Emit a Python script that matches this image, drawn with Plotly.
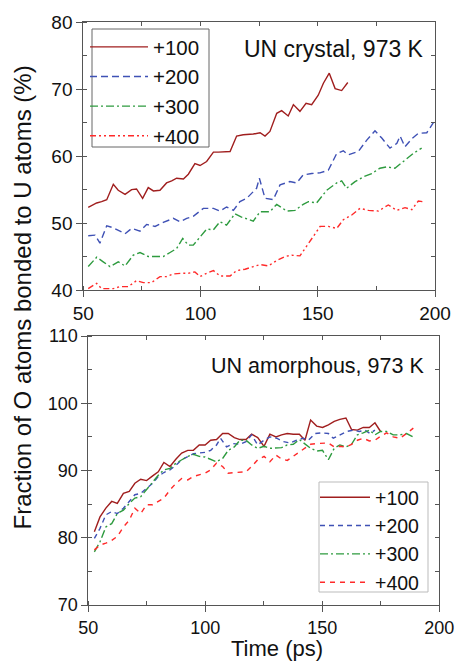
import plotly.graph_objects as go

# ---------------- data: UN crystal (top panel) ----------------
t_c100 = [52.1, 55.7, 57.8, 60.0, 62.8, 64.9, 67.8, 70.6, 72.7, 75.3, 77.7, 79.9, 82.7, 85.5, 87.7,
          89.8, 92.7, 94.8, 97.6, 99.8, 102.6, 105.5, 107.6, 112.6, 115.4, 118.2, 122.5, 125.4, 127.5,
          129.6, 132.5, 134.6, 137.4, 139.6, 142.4, 145.0, 147.4, 150.2, 152.4, 154.9, 157.4, 160.2, 162.8]
v_c100 = [52.35, 53.0, 53.2, 53.5, 55.8, 54.9, 54.3, 55.0, 55.1, 53.7, 55.3, 54.8, 54.9, 56.0, 56.3,
          56.7, 56.6, 57.3, 58.9, 58.6, 59.2, 60.6, 60.6, 60.7, 63.0, 63.2, 63.3, 63.5, 63.0,
          63.7, 66.4, 66.8, 66.0, 67.7, 66.7, 67.9, 67.7, 69.1, 70.9, 72.4, 70.1, 69.8, 71.0]

t_c200 = [52.1, 55.0, 57.1, 60.0, 62.8, 67.8, 70.6, 74.2, 77.0, 80.6, 84.1, 88.4, 91.2, 94.1, 96.9,
          101.2, 105.5, 108.3, 111.1, 114.0, 116.8, 119.7, 123.9, 125.1, 127.5, 131.0, 133.9, 138.1,
          141.0, 143.8, 147.4, 150.9, 154.5, 158.1, 160.9, 163.0, 167.3, 170.9, 174.4, 177.3, 180.8,
          183.7, 185.1, 187.2, 190.1, 192.9, 196.5, 199.3]
v_c200 = [48.1, 48.2, 47.0, 49.6, 49.3, 48.4, 49.2, 48.8, 49.8, 49.5, 50.1, 50.7, 50.2, 50.7, 51.0,
          52.2, 52.2, 51.8, 52.4, 51.9, 53.2, 53.7, 55.2, 56.7, 53.7, 53.5, 55.7, 56.2,
          56.0, 57.2, 57.4, 57.5, 57.9, 60.4, 60.8, 60.2, 60.7, 62.4, 63.8, 62.7, 61.2,
          61.9, 63.0, 61.4, 62.6, 63.4, 63.5, 65.0]

t_c300 = [52.1, 55.7, 58.5, 61.4, 64.9, 67.8, 71.3, 74.2, 77.7, 81.3, 84.1, 87.0, 89.8, 92.4, 94.8,
          96.9, 99.8, 102.6, 105.5, 108.3, 111.1, 114.7, 117.5, 122.5, 125.4, 129.6, 132.5, 136.8,
          140.3, 143.8, 146.0, 149.5, 153.8, 158.1, 160.2, 162.3, 165.9, 169.4, 173.0, 176.5, 179.4,
          182.9, 186.5, 190.7, 194.3]
v_c300 = [43.5, 44.9, 44.2, 43.5, 44.2, 43.6, 45.2, 45.6, 45.0, 45.0, 45.0, 45.6, 46.2, 47.7, 46.7,
          46.7, 47.9, 49.1, 49.0, 50.2, 49.7, 51.4, 50.9, 50.3, 51.7, 51.7, 52.8, 51.8,
          51.9, 52.8, 53.2, 53.0, 54.9, 56.0, 56.3, 55.2, 56.2, 56.9, 57.4, 58.2, 58.4,
          58.2, 59.2, 60.4, 61.2]

t_c400 = [52.1, 55.7, 57.8, 62.8, 65.6, 69.2, 72.7, 75.6, 79.1, 82.7, 85.5, 88.4, 91.9, 94.8, 97.6,
          99.8, 102.6, 105.5, 108.3, 112.6, 115.4, 119.0, 122.5, 125.4, 128.9, 132.5, 136.0, 138.9,
          142.4, 145.3, 148.1, 151.0, 154.5, 158.1, 160.9, 164.5, 168.0, 171.6, 175.8, 180.1, 183.7,
          187.2, 190.1, 192.9, 194.8]
v_c400 = [40.2, 41.0, 40.2, 40.2, 40.5, 40.5, 41.4, 41.1, 41.1, 42.0, 42.0, 42.4, 42.5, 42.5, 42.7,
          42.0, 42.5, 42.9, 42.1, 42.1, 42.9, 43.1, 43.5, 43.8, 43.6, 44.4, 45.0, 45.2,
          45.1, 46.5, 48.0, 49.5, 49.5, 49.2, 50.5, 51.2, 52.2, 51.9, 51.8, 52.7, 51.9,
          52.3, 52.0, 53.3, 53.2]

# ---------------- data: UN amorphous (bottom panel) ----------------
t_a100 = [52.6, 55.0, 57.5, 60.0, 62.4, 65.0, 67.5, 69.9, 72.4, 74.9, 77.5, 79.9, 82.3, 84.9, 87.5,
          89.9, 92.5, 94.9, 97.4, 99.9, 102.3, 104.8, 107.4, 109.8, 112.4, 114.8, 117.4, 119.8,
          122.4, 125.1, 127.6, 130.2, 132.6, 135.0, 137.6, 140.2, 142.6, 145.0, 147.6, 150.1,
          152.6, 155.1, 157.5, 160.1, 162.5, 165.0, 167.5, 170.1, 172.5, 174.9]
v_a100 = [80.9, 83.1, 84.4, 85.4, 85.1, 86.6, 86.9, 88.1, 88.7, 88.5, 89.2, 89.8, 91.2, 90.6, 91.7,
          92.6, 93.0, 93.0, 93.8, 93.8, 94.5, 94.6, 95.5, 95.5, 94.9, 94.6, 94.6, 95.4,
          94.9, 93.6, 95.4, 95.0, 95.3, 95.5, 95.4, 95.4, 94.5, 97.5, 96.6, 96.4,
          96.8, 97.3, 97.6, 97.8, 96.1, 96.0, 96.4, 96.4, 97.1, 95.8]

t_a200 = [52.6, 55.0, 57.5, 60.0, 62.4, 65.0, 67.5, 69.9, 72.4, 74.9, 77.5, 79.9, 82.3, 84.9, 87.5,
          89.9, 92.5, 94.9, 97.4, 99.9, 102.3, 104.8, 106.5, 109.1, 111.9, 114.8, 117.4, 119.8,
          122.4, 125.1, 127.6, 130.5, 133.3, 136.2, 139.0, 141.9, 144.0, 146.9, 149.7, 152.6,
          154.7, 157.5, 160.4, 163.2, 165.8, 168.2, 170.4, 172.5]
v_a200 = [79.9, 81.4, 83.4, 83.9, 83.6, 84.4, 85.4, 86.4, 86.6, 87.3, 88.1, 89.1, 89.7, 90.1, 90.8,
          91.6, 92.1, 92.5, 92.6, 92.7, 93.0, 93.8, 94.8, 93.5, 94.0, 93.9, 94.3, 95.3,
          93.8, 94.5, 95.0, 94.8, 94.3, 94.1, 94.5, 94.8, 94.5, 95.5, 95.6, 95.5,
          94.8, 95.3, 95.8, 96.0, 95.8, 96.0, 95.5, 96.0]

t_a300 = [52.6, 55.0, 57.5, 60.0, 62.4, 65.0, 67.5, 69.9, 72.4, 74.9, 77.5, 79.9, 82.3, 84.9, 87.5,
          89.9, 92.5, 94.9, 97.4, 99.9, 102.3, 104.8, 107.4, 109.8, 112.4, 114.8, 117.4, 119.8,
          122.4, 125.1, 127.6, 130.2, 132.6, 135.0, 137.6, 140.2, 142.6, 145.0, 147.6, 150.1,
          152.6, 155.1, 157.5, 160.1, 162.5, 165.0, 167.5, 170.1, 172.5, 174.9, 177.5, 180.3,
          183.2, 186.0, 188.9]
v_a300 = [77.9, 79.4, 81.6, 82.1, 83.6, 84.1, 85.1, 85.9, 86.1, 87.2, 88.3, 89.3, 90.1, 90.3, 91.1,
          91.6, 92.1, 92.4, 92.1, 92.0, 91.6, 91.3, 91.8, 93.0, 93.5, 94.5, 94.5, 93.8,
          93.3, 93.6, 93.3, 93.3, 93.4, 93.8, 93.9, 94.6, 94.0, 93.3, 92.9, 93.0,
          91.6, 93.3, 93.8, 93.5, 93.9, 95.3, 95.6, 96.0, 95.3, 95.8, 95.8, 95.3,
          95.3, 95.5, 95.0]

t_a400 = [52.6, 55.0, 57.5, 60.0, 62.4, 65.0, 67.5, 69.9, 72.4, 74.9, 77.5, 79.9, 82.3, 84.9, 87.5,
          89.9, 92.5, 94.9, 97.4, 99.9, 102.3, 104.8, 107.4, 109.8, 112.4, 114.8, 117.4, 119.8,
          122.4, 125.1, 127.6, 130.2, 132.6, 135.0, 137.6, 140.2, 142.6, 145.0, 147.6, 150.1,
          152.6, 155.1, 157.5, 160.1, 162.5, 165.0, 167.5, 170.1, 172.5, 174.9, 177.5, 180.3,
          183.2, 186.0, 188.9]
v_a400 = [78.2, 78.9, 79.2, 79.6, 80.2, 81.6, 82.6, 84.4, 83.6, 84.9, 84.9, 85.4, 85.9, 87.1, 88.1,
          88.8, 88.6, 89.1, 89.3, 89.6, 90.1, 91.1, 90.6, 89.6, 89.7, 89.8, 89.8, 90.6,
          91.6, 92.1, 91.3, 92.3, 91.7, 91.5, 92.1, 92.8, 93.3, 93.9, 94.0, 94.1,
          94.1, 93.5, 93.6, 93.5, 93.9, 94.5, 94.8, 94.4, 94.5, 95.1, 95.6, 95.0,
          94.8, 95.5, 96.3]

series_names = ["+100", "+200", "+300", "+400"]
x_ticks = [50, 100, 150, 200]
y_ticks_top = [40, 50, 60, 70, 80]
y_ticks_bot = [70, 80, 90, 100, 110]

colors = ["#a01e1e", "#3f51b5", "#2e9b3f", "#ff2a2a"]
dash_top = ["solid", "7px,4px", "8px,3px,2px,3px", "6px,3px,2px,3px,2px,3px"]
dash_bot = ["solid", "5px,4px", "8px,3px,2px,3px", "5px,5px"]

FONT = "Arial, Liberation Sans, sans-serif"
W, H = 457, 663
FRAME = "#555555"

fig = go.Figure()

top_data = [(t_c100, v_c100), (t_c200, v_c200), (t_c300, v_c300), (t_c400, v_c400)]
bot_data = [(t_a100, v_a100), (t_a200, v_a200), (t_a300, v_a300), (t_a400, v_a400)]

for i, (t, v) in enumerate(top_data):
    fig.add_trace(go.Scatter(x=t, y=v, mode="lines", name=series_names[i],
                             line=dict(color=colors[i], width=1.4, dash=dash_top[i]),
                             xaxis="x", yaxis="y", legend="legend"))
for i, (t, v) in enumerate(bot_data):
    fig.add_trace(go.Scatter(x=t, y=v, mode="lines", name=series_names[i],
                             line=dict(color=colors[i], width=1.4, dash=dash_bot[i]),
                             xaxis="x2", yaxis="y2", legend="legend2"))

# empty traces hosting the mirror axes (top / right inner ticks)
for xa, ya in [("x3", "y"), ("x", "y3"), ("x4", "y2"), ("x2", "y4")]:
    fig.add_trace(go.Scatter(x=[], y=[], xaxis=xa, yaxis=ya, showlegend=False, hoverinfo="skip"))

top_xdom = [83.3 / W, 435 / W]
top_ydom = [1 - 290 / H, 1 - 22.3 / H]
bot_xdom = [88.3 / W, 439.3 / W]
bot_ydom = [1 - 605 / H, 1 - 336 / H]

def main_x(dom, anchor, size):
    return dict(domain=dom, anchor=anchor, range=[50, 200], tickvals=x_ticks, automargin=False,
                ticks="outside", ticklen=6, tickwidth=1, tickcolor=FRAME,
                minor=dict(dtick=25, ticks="inside", ticklen=4, tickcolor=FRAME, showgrid=False),
                showline=True, linecolor=FRAME, linewidth=1, showgrid=False, zeroline=False,
                tickfont=dict(family=FONT, size=size, color="#111"))

def main_y(dom, anchor, rng, vals, size):
    return dict(domain=dom, anchor=anchor, range=rng, tickvals=vals, automargin=False,
                ticks="outside", ticklen=6, tickwidth=1, tickcolor=FRAME,
                minor=dict(dtick=5, ticks="inside", ticklen=4, tickcolor=FRAME, showgrid=False),
                showline=True, linecolor=FRAME, linewidth=1, showgrid=False, zeroline=False,
                tickfont=dict(family=FONT, size=size, color="#111"))

def mirror_x(over, anchor):
    return dict(overlaying=over, anchor=anchor, side="top", range=[50, 200], dtick=25, tick0=50,
                ticks="inside", ticklen=4, tickcolor=FRAME, showticklabels=False, automargin=False,
                showline=True, linecolor=FRAME, linewidth=1, showgrid=False, zeroline=False)

def mirror_y(over, anchor, rng):
    return dict(overlaying=over, anchor=anchor, side="right", range=rng, dtick=5, tick0=rng[0],
                ticks="inside", ticklen=4, tickcolor=FRAME, showticklabels=False, automargin=False,
                showline=True, linecolor=FRAME, linewidth=1, showgrid=False, zeroline=False)

def px_x(p):
    return p / W

def px_y(p):
    return 1 - p / H

fig.update_layout(
    width=W, height=H,
    margin=dict(l=0, r=0, t=0, b=0, autoexpand=False),
    paper_bgcolor="white", plot_bgcolor="white",
    font=dict(family=FONT, color="#111"),
    xaxis=main_x(top_xdom, "y", 19),
    yaxis=main_y(top_ydom, "x", [40, 80], y_ticks_top, 19),
    xaxis2=main_x(bot_xdom, "y2", 18),
    yaxis2=main_y(bot_ydom, "x2", [70, 110], y_ticks_bot, 18),
    xaxis3=mirror_x("x", "y"),
    yaxis3=mirror_y("y", "x", [40, 80]),
    xaxis4=mirror_x("x2", "y2"),
    yaxis4=mirror_y("y2", "x2", [70, 110]),
    legend=dict(x=px_x(85), y=px_y(27), xanchor="left", yanchor="top",
                bgcolor="rgba(0,0,0,0)", borderwidth=0,
                font=dict(family=FONT, size=20.5, color="#111"),
                itemwidth=58, tracegroupgap=0),
    legend2=dict(x=px_x(315), y=px_y(478), xanchor="left", yanchor="top",
                 bgcolor="rgba(0,0,0,0)", borderwidth=0,
                 font=dict(family=FONT, size=19.5, color="#111"),
                 itemwidth=50, tracegroupgap=0),
    showlegend=True,
    shapes=[
        dict(type="rect", xref="paper", yref="paper", x0=px_x(92), x1=px_x(209),
             y0=px_y(147), y1=px_y(29), line=dict(color="#666", width=1), fillcolor="rgba(0,0,0,0)"),
        dict(type="rect", xref="paper", yref="paper", x0=px_x(319), x1=px_x(428),
             y0=px_y(592), y1=px_y(482), line=dict(color="#bbb", width=1), fillcolor="rgba(0,0,0,0)"),
    ],
    annotations=[
        dict(text="UN crystal, 973 K", xref="paper", yref="paper", x=px_x(426), y=px_y(49),
             xanchor="right", yanchor="middle", showarrow=False,
             font=dict(family=FONT, size=23, color="#111")),
        dict(text="UN amorphous, 973 K", xref="paper", yref="paper", x=px_x(426), y=px_y(366),
             xanchor="right", yanchor="middle", showarrow=False,
             font=dict(family=FONT, size=21.5, color="#111")),
        dict(text="Fraction of O atoms bonded to U atoms (%)", xref="paper", yref="paper",
             x=px_x(22), y=px_y(297.5), xanchor="center", yanchor="middle", textangle=-90,
             showarrow=False, font=dict(family=FONT, size=24, color="#111")),
        dict(text="Time (ps)", xref="paper", yref="paper", x=px_x(277), y=px_y(662),
             xanchor="center", yanchor="bottom", showarrow=False, borderpad=0,
             font=dict(family=FONT, size=22, color="#111")),
    ],
)

fig.write_html("out.html", config={"displayModeBar": False},
               post_script="document.body.style.margin='0';document.body.style.overflow='hidden';")
